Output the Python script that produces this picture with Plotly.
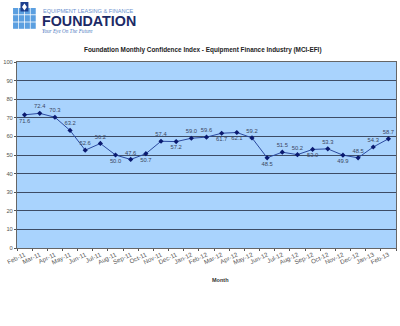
import plotly.graph_objects as go

months = ["Feb-11","Mar-11","Apr-11","May-11","Jun-11","Jul-11","Aug-11","Sep-11","Oct-11",
          "Nov-11","Dec-11","Jan-12","Feb-12","Mar-12","Apr-12","May-12","Jun-12","Jul-12",
          "Aug-12","Sep-12","Oct-12","Nov-12","Dec-12","Jan-13","Feb-13"]
mci_efi = [71.6,72.4,70.3,63.2,52.6,56.2,50.0,47.6,50.7,57.4,57.2,59.0,59.6,61.7,62.1,59.2,
           48.5,51.5,50.2,53.0,53.3,49.9,48.5,54.3,58.7]
label_pos = ["bottom center","top center","top center","top center","top center","top center",
             "bottom center","top center","bottom center","top center","bottom center","top center",
             "top center","bottom center","bottom center","top center","bottom center","top center",
             "top center","bottom center","top center","bottom center","top center","top center",
             "top center"]
y_ticks = [0,10,20,30,40,50,60,70,80,90,100]

W, H = 400, 326
L, R, T, B = 15, 3, 62, 78
FONT = "Liberation Sans, Arial, sans-serif"

def px(x):
    return (x - L) / (W - L - R)

def py(y):
    return (H - B - y) / (H - T - B)

fig = go.Figure()
fig.add_trace(go.Scatter(
    x=months, y=mci_efi, mode="lines+markers+text",
    text=[f"{v:.1f}" for v in mci_efi], textposition=label_pos,
    textfont=dict(family=FONT, size=5.8, color="#3a4660"),
    line=dict(color="#2b4aa0", width=1),
    marker=dict(symbol="diamond", size=4, color="#0a1a70"),
    cliponaxis=False, showlegend=False,
))

shapes = []
# logo squares grid
for i in range(4):
    for j in range(3):
        x0 = 11 + i * 5.9
        y0 = 8 + j * 7.2
        shapes.append(dict(type="rect", xref="paper", yref="paper",
                           x0=px(x0), x1=px(x0 + 5.2), y0=py(y0), y1=py(y0 + 6.4),
                           fillcolor="#5b9fe0", line=dict(width=0), layer="above"))
shapes.append(dict(type="rect", xref="paper", yref="paper",
                   x0=px(18.5), x1=px(26.5), y0=py(2), y1=py(11.5),
                   fillcolor="#1d3f8f", line=dict(width=0), layer="above"))
shapes.append(dict(type="path", xref="paper", yref="paper",
                   path=f"M {px(22.5)},{py(3.5)} L {px(25)},{py(7)} L {px(22.5)},{py(10.5)} L {px(20)},{py(7)} Z",
                   fillcolor="white", line=dict(width=0), layer="above"))

annotations = [
    dict(text="EQUIPMENT LEASING &amp; FINANCE", x=px(39), y=py(10.5), xref="paper", yref="paper",
         xanchor="left", yanchor="middle", showarrow=False,
         font=dict(family=FONT, size=5.6, color="#6b92cf")),
    dict(text="<b>FOUNDATION</b>", x=px(38.5), y=py(21), xref="paper", yref="paper",
         xanchor="left", yanchor="middle", showarrow=False,
         font=dict(family=FONT, size=14.3, color="#1c2a66")),
    dict(text="<i>Your Eye On The Future</i>", x=px(38.5), y=py(31.5), xref="paper", yref="paper",
         xanchor="left", yanchor="middle", showarrow=False,
         font=dict(family="Liberation Serif, serif", size=5.2, color="#4a78c0")),
    dict(text="<b>Foundation Monthly Confidence Index - Equipment Finance Industry (MCI-EFI)</b>",
         x=px(202), y=py(50), xref="paper", yref="paper", xanchor="center", yanchor="middle",
         showarrow=False, font=dict(family=FONT, size=6.4, color="#222222")),
    dict(text="<b>Month</b>", x=px(220), y=py(280), xref="paper", yref="paper",
         xanchor="center", yanchor="middle", showarrow=False,
         font=dict(family=FONT, size=5.5, color="#333333")),
]

fig.update_layout(
    width=W, height=H, margin=dict(l=L, r=R, t=T, b=B, pad=0),
    paper_bgcolor="white", plot_bgcolor="#a9d3fd",
    shapes=shapes, annotations=annotations,
    font=dict(family=FONT, color="#444444"),
    xaxis=dict(type="category", categoryorder="array", categoryarray=months,
               range=[-0.5, 24.5], tickangle=-25, tickson="boundaries",
               ticks="outside", ticklen=2, tickcolor="#555555",
               tickfont=dict(family=FONT, size=6.2, color="#555555"),
               showgrid=False, showline=True, linecolor="#666666", linewidth=1,
               mirror=True, zeroline=False),
    yaxis=dict(range=[0, 100], tickvals=y_ticks, ticks="outside", ticklen=2,
               tickcolor="#555555", tickfont=dict(family=FONT, size=5.8, color="#555555"),
               showgrid=True, gridcolor="#3d4c66", gridwidth=1.2,
               showline=True, linecolor="#666666", linewidth=1, mirror=True,
               zeroline=False),
)

fig.write_html("out.html")
